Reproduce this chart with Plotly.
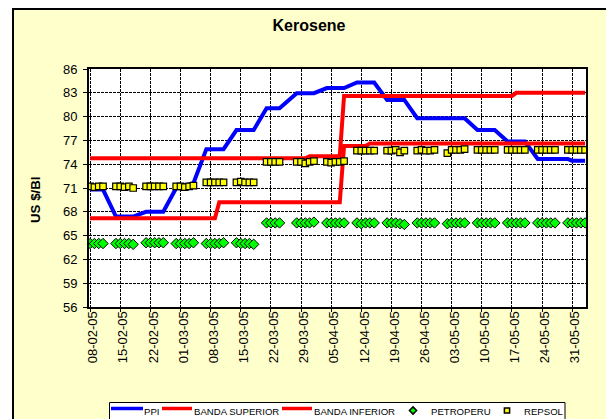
import pandas as pd
import plotly.graph_objects as go

TITLE = "Kerosene"
Y_TITLE = "US $/Bl"
Y_TICKS = [56, 59, 62, 65, 68, 71, 74, 77, 80, 83, 86]
LEGEND_NAMES = ["PPI", "BANDA SUPERIOR", "BANDA INFERIOR", "PETROPERU", "REPSOL"]

PPI_DATES = ["2005-02-08", "2005-02-11", "2005-02-14", "2005-02-18", "2005-02-21", "2005-02-25",
             "2005-02-28", "2005-03-04", "2005-03-07", "2005-03-11", "2005-03-14", "2005-03-18",
             "2005-03-21", "2005-03-24", "2005-03-28", "2005-04-01", "2005-04-04", "2005-04-08",
             "2005-04-11", "2005-04-15", "2005-04-18", "2005-04-22", "2005-04-25", "2005-05-06",
             "2005-05-09", "2005-05-13", "2005-05-16", "2005-05-20", "2005-05-23", "2005-05-30",
             "2005-05-31", "2005-06-03"]
PPI = [70.8, 70.8, 67.4, 67.4, 68.0, 68.0, 71.0, 71.6, 75.9, 75.9, 78.3, 78.3,
       81.05, 81.05, 82.95, 82.95, 83.6, 83.6, 84.3, 84.3, 82.1, 82.1, 79.8, 79.8,
       78.3, 78.3, 76.85, 76.85, 74.65, 74.65, 74.45, 74.45]

SUP_DATES = ["2005-02-08", "2005-03-30", "2005-03-31", "2005-04-07", "2005-04-08",
             "2005-05-17", "2005-05-18", "2005-06-03"]
BANDA_SUPERIOR = [74.75, 74.75, 75.0, 75.0, 82.6, 82.6, 83.0, 83.0]

INF_DATES = ["2005-02-08", "2005-03-09", "2005-03-10", "2005-04-07", "2005-04-08",
             "2005-04-13", "2005-04-14", "2005-06-03"]
BANDA_INFERIOR = [67.2, 67.2, 69.2, 69.2, 76.3, 76.3, 76.6, 76.6]

# trading days (weekdays, Good Friday excluded)
HOLIDAYS = ["2005-03-25"]
DAYS = [d for d in pd.bdate_range("2005-02-08", "2005-06-03") if d not in pd.to_datetime(HOLIDAYS)]

PETROPERU = [
    64.0, 64.0, 64.0, 64.0,
    64.0, 64.0, 64.0, 64.0, 63.9,
    64.1, 64.1, 64.1, 64.1, 64.1,
    64.0, 64.0, 64.0, 64.0, 64.1,
    64.0, 64.0, 64.0, 64.0, 64.1,
    64.1, 64.0, 64.0, 64.0, 63.9,
    66.6, 66.6, 66.6, 66.6,
    66.6, 66.6, 66.6, 66.6, 66.7,
    66.6, 66.6, 66.6, 66.6, 66.6,
    66.6, 66.5, 66.6, 66.6, 66.6,
    66.6, 66.6, 66.6, 66.5, 66.4,
    66.6, 66.6, 66.6, 66.6, 66.6,
    66.5, 66.6, 66.6, 66.6, 66.6,
    66.6, 66.6, 66.6, 66.6, 66.6,
    66.6, 66.6, 66.6, 66.6, 66.6,
    66.6, 66.6, 66.6, 66.6, 66.6,
    66.6, 66.6, 66.6, 66.6, 66.6,
]
REPSOL = [
    71.2, 71.1, 71.2, 71.2,
    71.2, 71.2, 71.1, 71.2, 71.0,
    71.2, 71.2, 71.2, 71.2, 71.2,
    71.2, 71.2, 71.1, 71.2, 71.3,
    71.7, 71.7, 71.7, 71.7, 71.7,
    71.7, 71.8, 71.7, 71.7, 71.7,
    74.3, 74.3, 74.3, 74.3,
    74.3, 74.3, 74.1, 74.3, 74.4,
    74.3, 74.2, 74.3, 74.3, 74.4,
    75.7, 75.7, 75.7, 75.7, 75.7,
    75.7, 75.7, 75.8, 75.5, 75.7,
    75.7, 75.8, 75.7, 75.7, 75.8,
    75.4, 75.8, 75.8, 75.8, 75.9,
    75.8, 75.8, 75.8, 75.8, 75.8,
    75.8, 75.8, 75.8, 75.8, 75.8,
    75.8, 75.8, 75.8, 75.8, 75.8,
    75.8, 75.8, 75.8, 75.8, 75.8,
]

FONT = "Arial, Liberation Sans, sans-serif"
W, H = 606, 419
L, R, T, B = 89, 20, 69, 112
PW, PH = W - L - R, H - T - B
BLUE, RED, GREEN, YELLOW = "#0000FF", "#FF0000", "#00FF00", "#FFFF00"


def px(x):
    return (x - L) / PW


def py(y):
    return (H - B - y) / PH


fig = go.Figure()
fig.add_trace(go.Scatter(x=PPI_DATES, y=PPI, mode="lines", name=LEGEND_NAMES[0],
                         line=dict(color=BLUE, width=4)))
fig.add_trace(go.Scatter(x=SUP_DATES, y=BANDA_SUPERIOR, mode="lines", name=LEGEND_NAMES[1],
                         line=dict(color=RED, width=4)))
fig.add_trace(go.Scatter(x=INF_DATES, y=BANDA_INFERIOR, mode="lines", name=LEGEND_NAMES[2],
                         line=dict(color=RED, width=4)))
fig.add_trace(go.Scatter(x=DAYS, y=PETROPERU, mode="markers", name=LEGEND_NAMES[3],
                         marker=dict(symbol="diamond", size=8, color=GREEN,
                                     line=dict(color="black", width=1))))
fig.add_trace(go.Scatter(x=DAYS, y=REPSOL, mode="markers", name=LEGEND_NAMES[4],
                         marker=dict(symbol="square", size=6.5, color=YELLOW,
                                     line=dict(color="black", width=1.2))))

grid = dict(showgrid=True, gridcolor="black", gridwidth=1, griddash="3px,1px")

fig.update_xaxes(type="date", range=["2005-02-07 17:45", "2005-06-03 05:00"],
                 tick0="2005-02-08", dtick=7 * 86400000, tickformat="%d-%m-%y",
                 tickangle=-90, ticks="outside", ticklen=3, tickcolor="black",
                 ticklabelstandoff=-6, ticklabelshift=3,
                 showline=True, linecolor="black", linewidth=2, mirror=True,
                 tickfont=dict(family=FONT, size=13, color="black"), **grid)
fig.update_yaxes(range=[56, 86], tickvals=Y_TICKS, ticks="outside", ticklen=4,
                 ticklabelstandoff=3,
                 tickcolor="black", showline=True, linecolor="black", linewidth=2, mirror=True,
                 tickfont=dict(family=FONT, size=13, color="black"), **grid)

# ---- manual legend (Excel style) ----
LEG_Y_LINE = 408.5
LEG_Y_TEXT = 411.5
shapes = [
    dict(type="rect", xref="paper", yref="paper", x0=px(-5), x1=px(12), y0=py(-5), y1=py(430),
         fillcolor="white", line=dict(width=0), layer="below"),
    dict(type="rect", xref="paper", yref="paper", x0=px(-5), x1=px(615), y0=py(-5), y1=py(8),
         fillcolor="white", line=dict(width=0), layer="below"),
    dict(type="rect", xref="paper", yref="paper", x0=px(13), x1=px(640), y0=py(9), y1=py(450),
         fillcolor="rgba(0,0,0,0)", line=dict(color="black", width=2), layer="below"),
    # legend box
    dict(type="rect", xref="paper", yref="paper", x0=px(109.5), x1=px(565), y0=py(402.5), y1=py(440),
         fillcolor="white", line=dict(color="black", width=1), layer="above"),
]
for (x0, x1, col) in [(111, 143, BLUE), (162, 192, RED), (282, 312, RED)]:
    shapes.append(dict(type="line", xref="paper", yref="paper", x0=px(x0), x1=px(x1),
                       y0=py(LEG_Y_LINE), y1=py(LEG_Y_LINE), line=dict(color=col, width=3.5),
                       layer="above"))
cx, cy, r = 413, 410.5, 3.6
shapes.append(dict(type="path", xref="paper", yref="paper",
                   path="M %f,%f L %f,%f L %f,%f L %f,%f Z" % (
                       px(cx - r), py(cy), px(cx), py(cy - r), px(cx + r), py(cy), px(cx), py(cy + r)),
                   fillcolor=GREEN, line=dict(color="black", width=1.5), layer="above"))
sx, sy, s = 507, 410.5, 2.6
shapes.append(dict(type="rect", xref="paper", yref="paper", x0=px(sx - s), x1=px(sx + s),
                   y0=py(sy + s), y1=py(sy - s), fillcolor=YELLOW,
                   line=dict(color="black", width=1.5), layer="above"))

annotations = [dict(text="<b>%s</b>" % Y_TITLE, x=px(35), y=py(200), xref="paper", yref="paper",
                    textangle=-90, showarrow=False, xanchor="center", yanchor="middle",
                    font=dict(family=FONT, size=13.3, color="black"))]
for name, x in zip(LEGEND_NAMES, [143, 193, 313, 430, 523]):
    annotations.append(dict(text=name, x=px(x), y=py(LEG_Y_TEXT), xref="paper", yref="paper",
                            showarrow=False, xanchor="left", yanchor="middle",
                            font=dict(family=FONT, size=9.6, color="black"),
                            borderpad=0))

fig.update_layout(
    width=W, height=H,
    margin=dict(l=L, r=R, t=T, b=B, autoexpand=False),
    paper_bgcolor="#FFFFCC", plot_bgcolor="white",
    title=dict(text="<b>%s</b>" % TITLE, x=309 / W, xanchor="center", y=1 - 25 / H,
               yanchor="middle", font=dict(family=FONT, size=16, color="black")),
    showlegend=False,
    annotations=annotations,
    shapes=shapes,
)

fig.write_html("out.html", config={"displayModeBar": False},
               post_script="document.body.style.margin='0';document.body.style.overflow='hidden';")
